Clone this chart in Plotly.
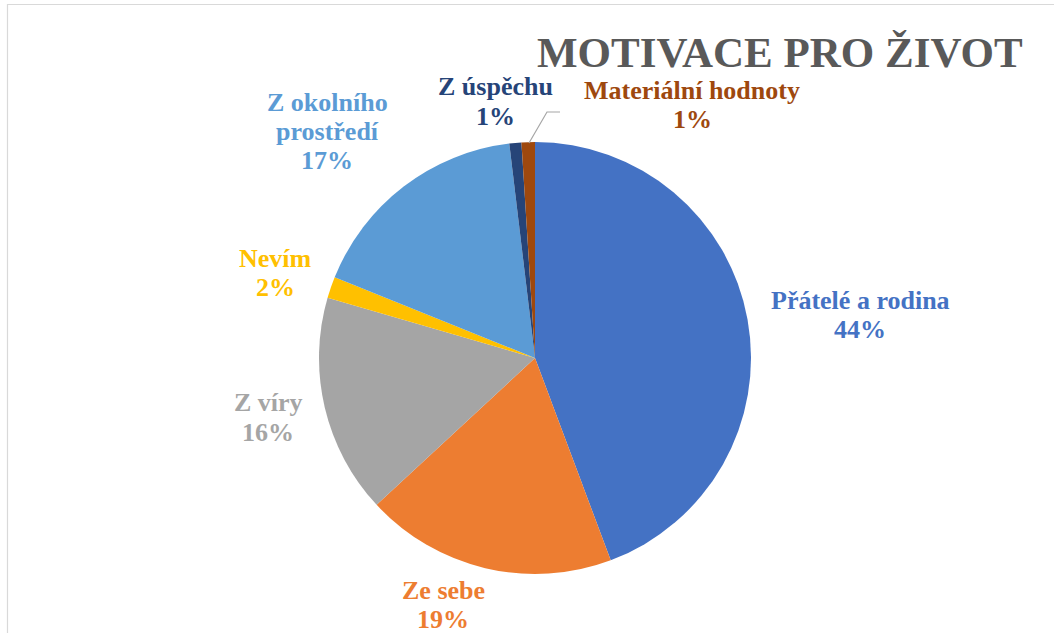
import plotly.graph_objects as go

W, H = 1054, 633

categories = ["Přátelé a rodina", "Ze sebe", "Z víry", "Nevím",
              "Z okolního prostředí", "Z úspěchu", "Materiální hodnoty"]
values = [44.3, 18.8, 16.4, 1.6, 17.0, 0.9, 1.0]
colors = ["#4472C4", "#ED7D31", "#A5A5A5", "#FFC000", "#5B9BD5", "#264478", "#9E480E"]
label_lines = [["Přátelé a rodina"], ["Ze sebe"], ["Z víry"], ["Nevím"],
               ["Z okolního", "prostředí"], ["Z úspěchu"], ["Materiální hodnoty"]]
title_text = "MOTIVACE PRO ŽIVOT"

# label anchor positions in pixels (x center, y of first line center)
label_pos = [(860, 300), (443, 590), (268, 403), (275, 258),
             (327, 102), (495, 87), (692, 90)]
LINE_GAP = 29.5

SERIF = "'Liberation Serif', 'Times New Roman', Tinos, 'DejaVu Serif', serif"

cx, cy, r = 535, 358, 216

def px(x):
    return x / W

def py(y):
    return 1 - y / H

fig = go.Figure(go.Pie(
    labels=categories,
    values=values,
    sort=False,
    direction="clockwise",
    rotation=0,
    marker=dict(colors=colors, line=dict(width=0)),
    textinfo="none",
    hoverinfo="label+percent",
    domain=dict(x=[px(cx - r), px(cx + r)], y=[py(cy + r), py(cy - r)]),
    showlegend=False,
))

total = sum(values)
annotations = []
for lines, v, c, (x, y) in zip(label_lines, values, colors, label_pos):
    pct = f"{round(v / total * 100)}%"
    for i, s in enumerate(lines + [pct]):
        annotations.append(dict(
            x=px(x), y=py(y + i * LINE_GAP), xref="paper", yref="paper",
            xanchor="center", yanchor="middle", showarrow=False,
            text=f"<b>{s}</b>", align="center",
            font=dict(family=SERIF, size=26, color=c),
        ))

annotations.append(dict(
    x=px(780), y=py(52), xref="paper", yref="paper",
    xanchor="center", yanchor="middle", showarrow=False,
    text=f"<b>{title_text}</b>",
    font=dict(family=SERIF, size=43, color="#595959"),
))

shapes = [
    dict(type="rect", xref="paper", yref="paper",
         x0=px(7.5), x1=1.02, y0=-0.02, y1=py(4.5),
         line=dict(color="#D9D9D9", width=1.2), fillcolor="rgba(0,0,0,0)"),
    dict(type="path", xref="paper", yref="paper",
         path=f"M {px(529)} {py(143)} L {px(547)} {py(112)} L {px(560)} {py(112)}",
         line=dict(color="#A6A6A6", width=1.2)),
]

fig.update_layout(
    width=W, height=H,
    margin=dict(l=0, r=0, t=0, b=0),
    paper_bgcolor="white",
    plot_bgcolor="white",
    annotations=annotations,
    shapes=shapes,
)

fig.write_html("out.html",
               config={"displayModeBar": False},
               post_script="document.body.style.margin='0px';document.body.style.overflow='hidden';")
